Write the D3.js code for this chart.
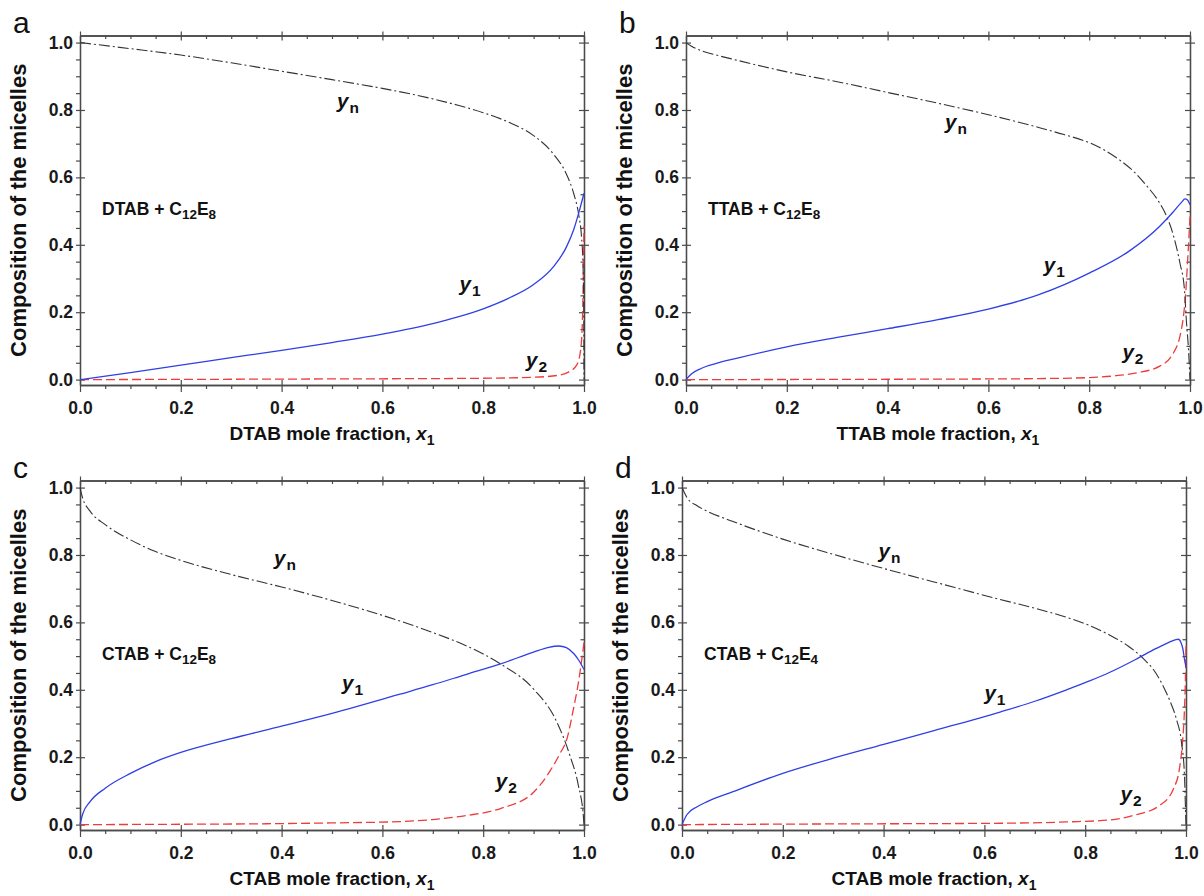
<!DOCTYPE html>
<html>
<head>
<meta charset="utf-8">
<script src="https://cdn.jsdelivr.net/npm/d3@7"></script>
<style>
body { margin: 0; background: #fff; }
text { font-family: "Liberation Sans", Arial, Helvetica, sans-serif; }
</style>
</head>
<body>
<svg id="fig"></svg>
<script>
// ---- data: [x1, y] pairs ----
// a: DTAB + C12E8
const a_yn = [[0,1.0],[0.1,0.982],[0.2,0.963],[0.3,0.94],[0.4,0.915],[0.5,0.89],[0.6,0.864],[0.7,0.833],[0.75,0.814],[0.8,0.792],[0.85,0.764],[0.9,0.724],[0.94,0.668],[0.965,0.61],[0.98,0.55],[0.99,0.485],[0.995,0.425],[0.998,0.34],[0.9995,0.2],[1.0,0.0]]
const a_y1 = [[0,0],[0.1,0.021],[0.2,0.043],[0.3,0.065],[0.4,0.087],[0.5,0.11],[0.6,0.135],[0.7,0.166],[0.75,0.186],[0.8,0.21],[0.85,0.241],[0.9,0.282],[0.94,0.336],[0.965,0.393],[0.98,0.447],[0.99,0.497],[1.0,0.553]]
const a_y2 = [[0,0],[0.5,0.002],[0.8,0.004],[0.9,0.007],[0.95,0.013],[0.97,0.023],[0.985,0.042],[0.992,0.075],[0.996,0.14],[0.998,0.25],[0.999,0.34],[1.0,0.455]]
// b: TTAB + C12E8
const b_yn = [[0,1.0],[0.01,0.99],[0.03,0.976],[0.06,0.963],[0.1,0.948],[0.2,0.913],[0.3,0.884],[0.4,0.852],[0.5,0.82],[0.6,0.786],[0.7,0.748],[0.75,0.727],[0.8,0.703],[0.83,0.681],[0.86,0.652],[0.89,0.615],[0.914,0.575],[0.935,0.535],[0.952,0.49],[0.967,0.428],[0.98,0.346],[0.989,0.267],[0.993,0.17],[0.997,0.09],[1.0,0.0]]
const b_y1 = [[0,0],[0.01,0.016],[0.03,0.033],[0.06,0.048],[0.1,0.063],[0.2,0.097],[0.3,0.125],[0.4,0.151],[0.5,0.178],[0.6,0.209],[0.7,0.252],[0.8,0.316],[0.88,0.382],[0.94,0.455],[0.967,0.498],[0.983,0.526],[0.99,0.536],[0.995,0.533],[1.0,0.519]]
const b_y2 = [[0,0],[0.4,0.001],[0.6,0.002],[0.7,0.003],[0.8,0.006],[0.85,0.011],[0.894,0.02],[0.94,0.04],[0.967,0.079],[0.98,0.128],[0.987,0.188],[0.991,0.247],[0.995,0.346],[0.998,0.425],[1.0,0.484]]
// c: CTAB + C12E8
const c_yn = [[0,1.0],[0.005,0.97],[0.02,0.93],[0.05,0.89],[0.1,0.845],[0.15,0.81],[0.2,0.784],[0.3,0.742],[0.4,0.705],[0.5,0.665],[0.635,0.604],[0.7,0.57],[0.767,0.53],[0.833,0.478],[0.9,0.402],[0.946,0.305],[0.972,0.205],[0.989,0.115],[0.999,0.02],[1.0,0.0]]
const c_y1 = [[0,0],[0.005,0.03],[0.02,0.068],[0.05,0.108],[0.1,0.152],[0.15,0.187],[0.2,0.214],[0.3,0.255],[0.4,0.292],[0.5,0.33],[0.635,0.387],[0.7,0.415],[0.767,0.446],[0.833,0.476],[0.9,0.512],[0.93,0.526],[0.95,0.53],[0.965,0.525],[0.98,0.507],[0.99,0.487],[1.0,0.46]]
const c_y2 = [[0,0],[0.2,0.001],[0.4,0.003],[0.5,0.005],[0.635,0.009],[0.7,0.015],[0.767,0.027],[0.833,0.047],[0.9,0.096],[0.933,0.16],[0.952,0.21],[0.966,0.254],[0.979,0.343],[0.989,0.422],[1.0,0.54]]
// d: CTAB + C12E4
const d_yn = [[0,1.0],[0.01,0.97],[0.03,0.946],[0.05,0.93],[0.1,0.9],[0.2,0.847],[0.3,0.802],[0.4,0.76],[0.5,0.72],[0.631,0.668],[0.7,0.642],[0.763,0.615],[0.81,0.59],[0.849,0.562],[0.885,0.53],[0.915,0.493],[0.94,0.45],[0.955,0.41],[0.97,0.36],[0.981,0.313],[0.991,0.244],[0.997,0.146],[0.999,0.047],[1.0,0.0]]
const d_y1 = [[0,0],[0.01,0.03],[0.03,0.053],[0.05,0.068],[0.1,0.097],[0.2,0.152],[0.3,0.197],[0.4,0.238],[0.5,0.279],[0.631,0.334],[0.7,0.366],[0.763,0.4],[0.81,0.427],[0.849,0.452],[0.9,0.49],[0.94,0.522],[0.965,0.54],[0.98,0.549],[0.985,0.55],[0.99,0.54],[0.994,0.52],[0.997,0.49],[1.0,0.468]]
const d_y2 = [[0,0],[0.3,0.002],[0.5,0.003],[0.631,0.004],[0.763,0.008],[0.85,0.014],[0.895,0.027],[0.948,0.057],[0.975,0.106],[0.987,0.166],[0.993,0.244],[0.997,0.343],[0.999,0.441],[1.0,0.535]]

// ticks
const xMajor = [0, 0.2, 0.4, 0.6, 0.8, 1.0]
const yMajor = [0, 0.2, 0.4, 0.6, 0.8, 1.0]
const minor = [0.05,0.1,0.15,0.25,0.3,0.35,0.45,0.5,0.55,0.65,0.7,0.75,0.85,0.9,0.95]

// panel layout (pixels) + labels
const panels = [
    {id: "a", left: 80, right: 584, top: 35.5, bottom: 385, surf: "DTAB", nonionic: ["12", "8"],
     yn: a_yn, y1: a_y1, y2: a_y2, lab: {yn: [0.51, 0.806], y1: [0.753, 0.264], y2: [0.885, 0.038]}},
    {id: "b", left: 686, right: 1190, top: 35.5, bottom: 385, surf: "TTAB", nonionic: ["12", "8"],
     yn: b_yn, y1: b_y1, y2: b_y2, lab: {yn: [0.514, 0.744], y1: [0.71, 0.32], y2: [0.866, 0.06]}},
    {id: "c", left: 80, right: 584, top: 480.5, bottom: 830, surf: "CTAB", nonionic: ["12", "8"],
     yn: c_yn, y1: c_y1, y2: c_y2, lab: {yn: [0.385, 0.77], y1: [0.52, 0.40], y2: [0.825, 0.11]}},
    {id: "d", left: 682, right: 1186, top: 480.5, bottom: 830, surf: "CTAB", nonionic: ["12", "4"],
     yn: d_yn, y1: d_y1, y2: d_y2, lab: {yn: [0.39, 0.79], y1: [0.6, 0.37], y2: [0.87, 0.07]}}
]

const W = 1204, H = 896
const axisColor = "#4a4a4a"
const fontTick = 17.5

const svg = d3.select("#fig").attr("width", W).attr("height", H)
svg.append("rect").attr("width", W).attr("height", H).attr("fill", "#fff")

function styleAxis(sel) {
    sel.select(".domain").attr("stroke", axisColor).attr("stroke-width", 1.3)
    sel.selectAll(".tick line").attr("stroke", axisColor).attr("stroke-width", 1.2)
    sel.selectAll(".tick text")
        .attr("fill", "#1a1a1a")
        .attr("font-size", fontTick)
        .attr("font-weight", "bold")
        .attr("font-family", "Liberation Sans, Arial, sans-serif")
}

function subLabel(g, px, py, sub) {
    const t = g.append("text")
        .attr("x", px).attr("y", py)
        .attr("font-weight", "bold")
        .attr("fill", "#111")
    t.append("tspan").attr("font-size", 20.5).attr("font-style", "italic").text("y")
    t.append("tspan").attr("font-size", 15.5).attr("dy", 5).attr("dx", 1).text(sub)
}

panels.forEach(p => {
    const x = d3.scaleLinear().domain([0, 1]).range([p.left, p.right])
    const y = d3.scaleLinear().domain([-0.016, 1.021]).range([p.bottom, p.top])
    const g = svg.append("g")

    // minor ticks: outward on bottom/left, inward on top/right
    g.append("g").attr("transform", `translate(0,${p.bottom})`)
        .call(d3.axisBottom(x).tickValues(minor).tickSize(4).tickSizeOuter(0).tickFormat(""))
        .call(styleAxis)
    g.append("g").attr("transform", `translate(0,${p.top})`)
        .call(d3.axisTop(x).tickValues(minor).tickSize(-3.5).tickSizeOuter(0).tickFormat(""))
        .call(styleAxis)
    g.append("g").attr("transform", `translate(${p.left},0)`)
        .call(d3.axisLeft(y).tickValues(minor).tickSize(4).tickSizeOuter(0).tickFormat(""))
        .call(styleAxis)
    g.append("g").attr("transform", `translate(${p.right},0)`)
        .call(d3.axisRight(y).tickValues(minor).tickSize(-3.5).tickSizeOuter(0).tickFormat(""))
        .call(styleAxis)

    // major ticks cross the frame
    g.append("g").attr("transform", `translate(0,${p.bottom})`)
        .call(d3.axisBottom(x).tickValues(xMajor).tickSize(7).tickPadding(10).tickSizeOuter(0).tickFormat(d3.format(".1f")))
        .call(styleAxis)
        .call(s => s.selectAll(".tick line").attr("y1", -5))
    g.append("g").attr("transform", `translate(0,${p.top})`)
        .call(d3.axisTop(x).tickValues(xMajor).tickSize(-5).tickSizeOuter(0).tickFormat(""))
        .call(styleAxis)
        .call(s => s.selectAll(".tick line").attr("y1", -4))
    g.append("g").attr("transform", `translate(${p.left},0)`)
        .call(d3.axisLeft(y).tickValues(yMajor).tickSize(4).tickPadding(3).tickSizeOuter(0).tickFormat(d3.format(".1f")))
        .call(styleAxis)
        .call(s => s.selectAll(".tick line").attr("x1", 5))
    g.append("g").attr("transform", `translate(${p.right},0)`)
        .call(d3.axisRight(y).tickValues(yMajor).tickSize(-5).tickSizeOuter(0).tickFormat(""))
        .call(styleAxis)
        .call(s => s.selectAll(".tick line").attr("x1", 5))

    const line = d3.line()
        .x(d => x(d[0]))
        .y(d => y(d[1]))
        .curve(d3.curveMonotoneX)

    g.append("path").datum(p.y2)
        .attr("d", line).attr("fill", "none")
        .attr("stroke", "#ee3b3b").attr("stroke-width", 1.3)
        .attr("stroke-dasharray", "9,4")
    g.append("path").datum(p.yn)
        .attr("d", line).attr("fill", "none")
        .attr("stroke", "#333").attr("stroke-width", 1.1)
        .attr("stroke-dasharray", "11,3,2,3")
    g.append("path").datum(p.y1)
        .attr("d", line).attr("fill", "none")
        .attr("stroke", "#2f3fe6").attr("stroke-width", 1.3)

    // curve labels
    subLabel(g, x(p.lab.yn[0]), y(p.lab.yn[1]), "n")
    subLabel(g, x(p.lab.y1[0]), y(p.lab.y1[1]), "1")
    subLabel(g, x(p.lab.y2[0]), y(p.lab.y2[1]), "2")

    // system label
    const sys = g.append("text")
        .attr("x", p.left + 22).attr("y", y(0.489))
        .attr("font-size", 17.5).attr("font-weight", "bold").attr("fill", "#111")
    sys.append("tspan").text(p.surf + " + C")
    sys.append("tspan").attr("font-size", 13.5).attr("dy", 4).text(p.nonionic[0])
    sys.append("tspan").attr("dy", -4).text("E")
    sys.append("tspan").attr("font-size", 13.5).attr("dy", 4).text(p.nonionic[1])

    // x title
    const xt = g.append("text")
        .attr("x", (p.left + p.right) / 2).attr("y", p.bottom + 55)
        .attr("text-anchor", "middle")
        .attr("font-size", 19).attr("font-weight", "bold").attr("fill", "#111")
    xt.append("tspan").text(p.surf + " mole fraction, ")
    xt.append("tspan").attr("font-style", "italic").text("x")
    xt.append("tspan").attr("font-size", 14).attr("dy", 5).text("1")

    // y title
    g.append("text")
        .attr("transform", `translate(${p.left - 54},${(p.top + p.bottom) / 2}) rotate(-90)`)
        .attr("text-anchor", "middle")
        .attr("font-size", 22).attr("font-weight", "bold").attr("fill", "#111")
        .text("Composition of the micelles")

    // panel letter
    g.append("text")
        .attr("x", p.left - 67).attr("y", p.top - 3)
        .attr("font-size", 30).attr("fill", "#111")
        .text(p.id)
})
</script>
</body>
</html>
